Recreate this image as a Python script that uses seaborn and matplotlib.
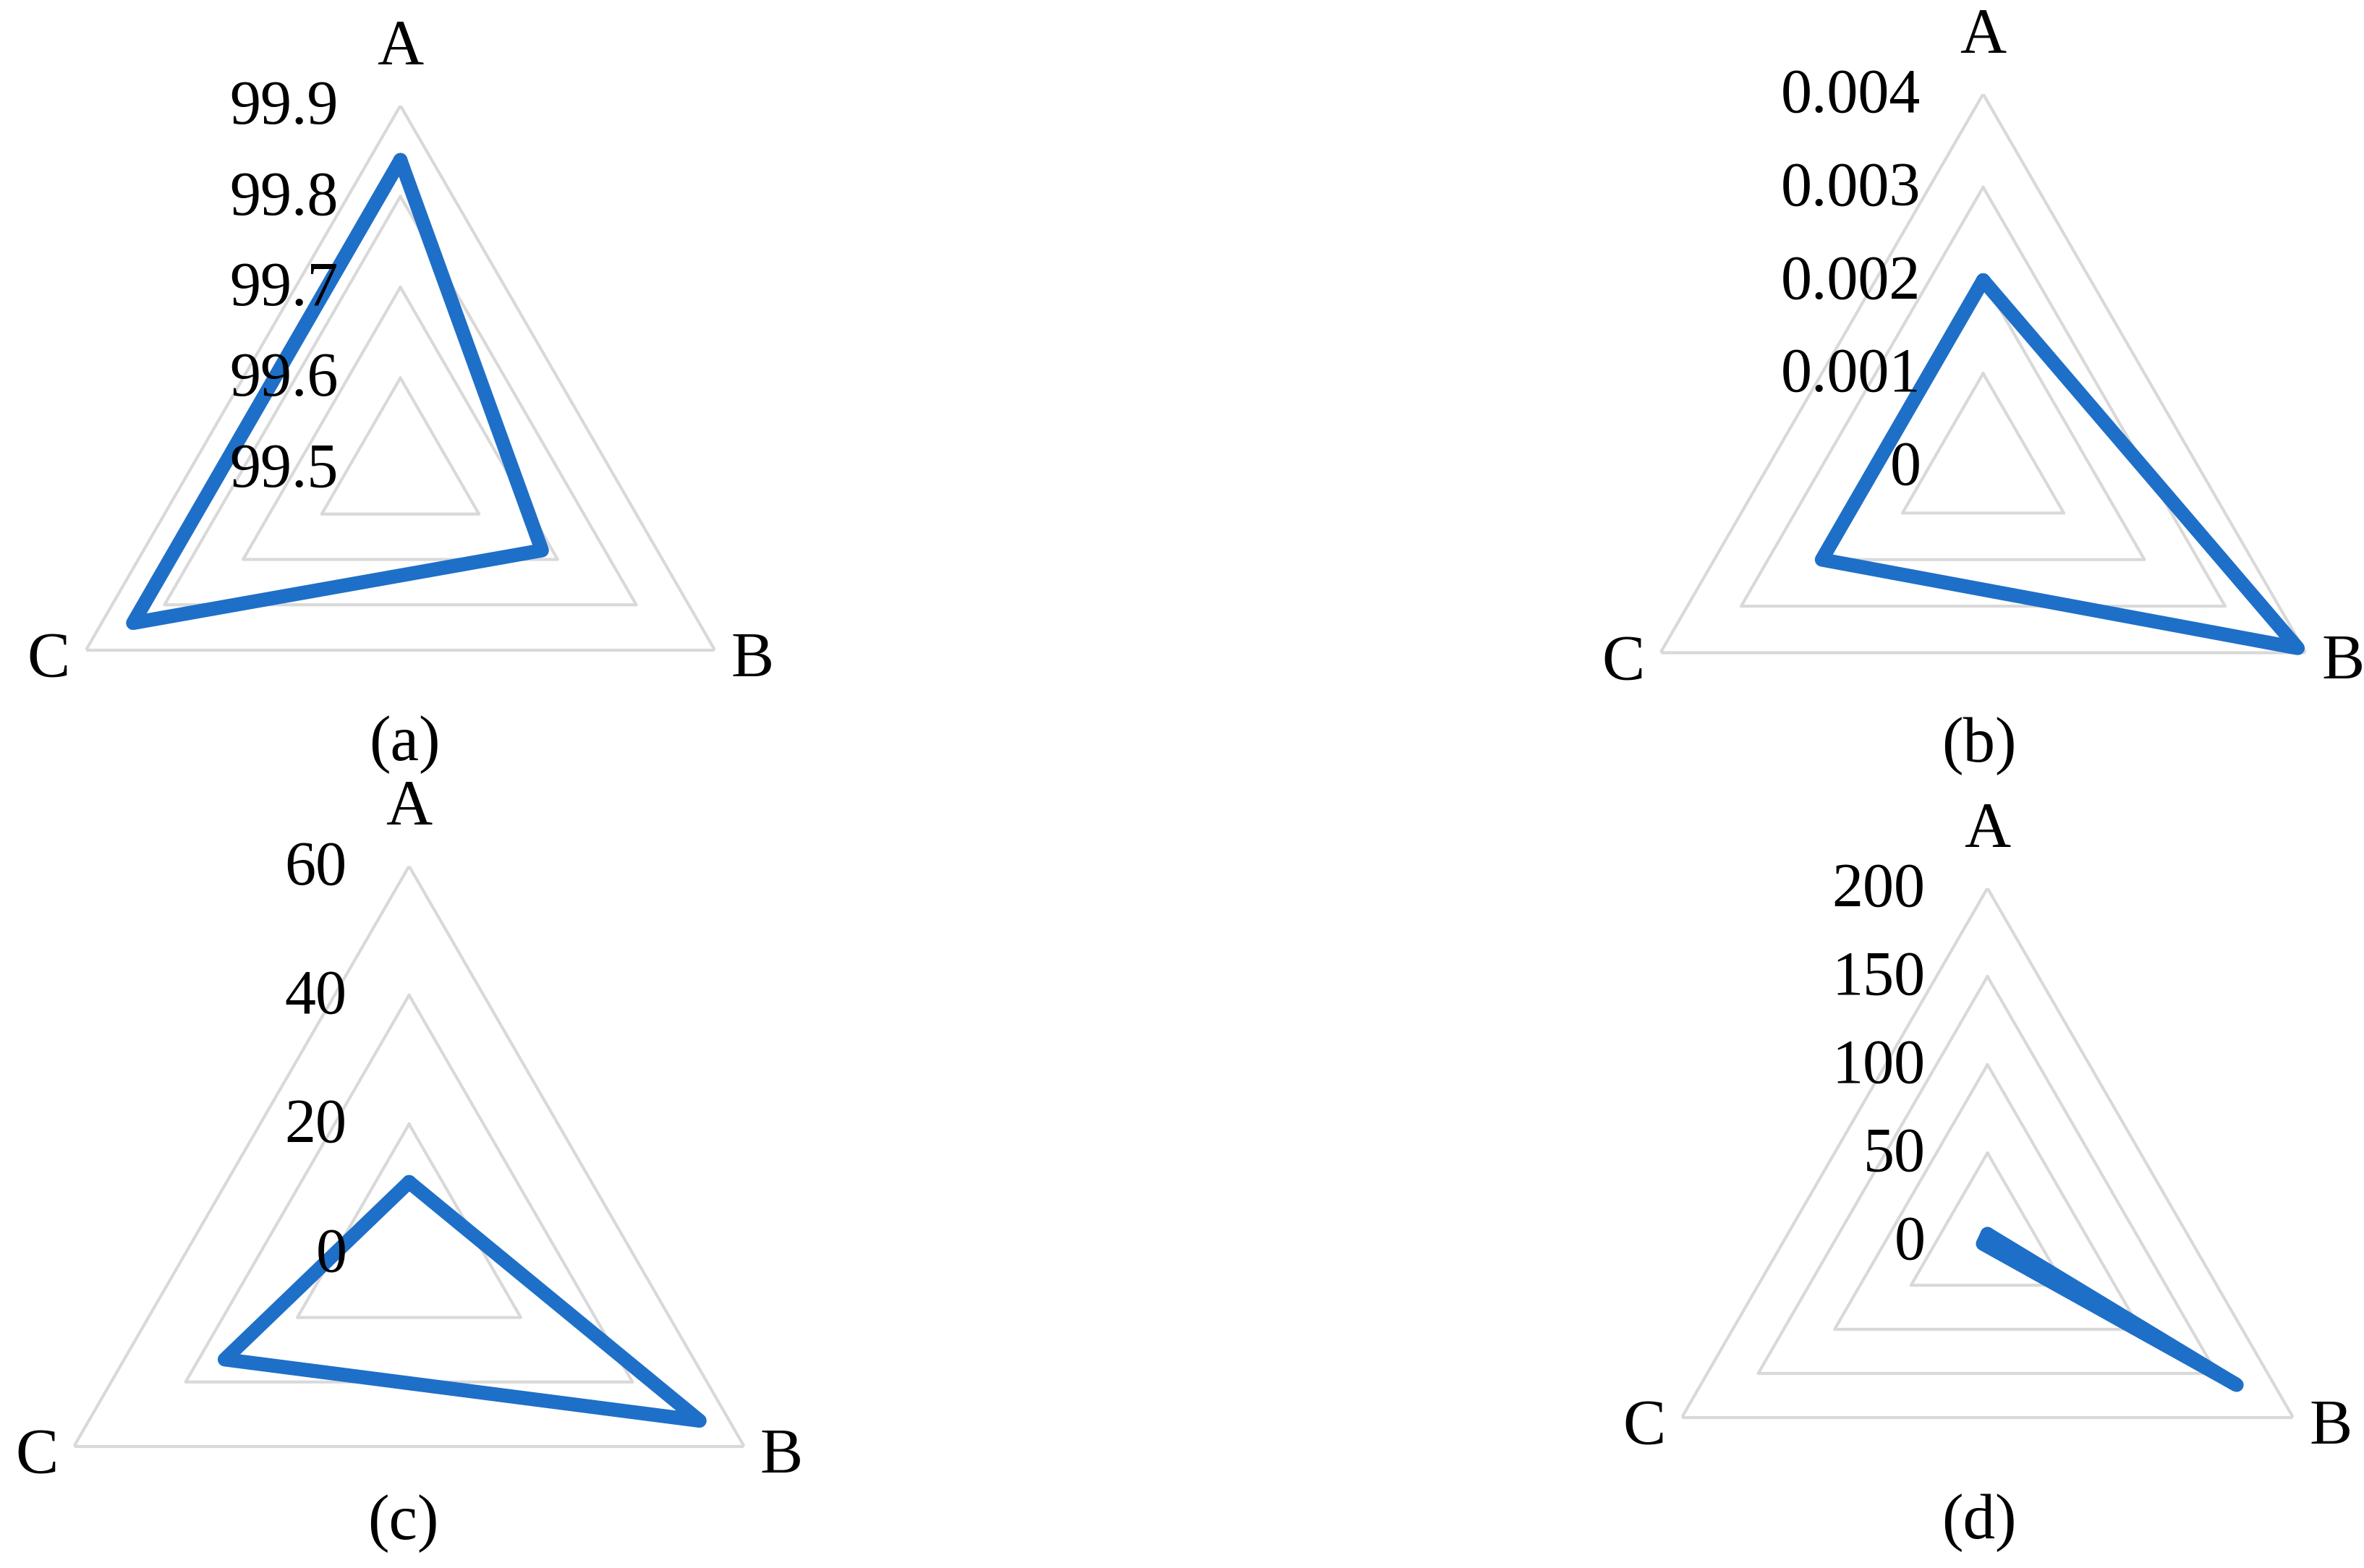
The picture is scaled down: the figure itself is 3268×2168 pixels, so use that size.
import numpy as np
import pandas as pd
import matplotlib
matplotlib.use("Agg")
import matplotlib.pyplot as plt
import seaborn as sns

# data
categorias = ["A", "B", "C"]
valores_a = [99.84, 99.68, 99.84]
valores_b = [0.002, 0.0039, 0.002]
valores_c = [11, 52, 33]
valores_d = [4, 163, 3]

niveis_a = [99.5, 99.6, 99.7, 99.8, 99.9]
rotulos_a = ["99.5", "99.6", "99.7", "99.8", "99.9"]
niveis_b = [0, 0.001, 0.002, 0.003, 0.004]
rotulos_b = ["0", "0.001", "0.002", "0.003", "0.004"]
niveis_c = [0, 20, 40, 60]
rotulos_c = ["0", "20", "40", "60"]
niveis_d = [0, 50, 100, 150, 200]
rotulos_d = ["0", "50", "100", "150", "200"]

legendas = ["(a)", "(b)", "(c)", "(d)"]

sns.set_theme(style="white")
plt.rcParams["font.family"] = ["Liberation Serif", "DejaVu Serif"]
plt.rcParams["text.color"] = "black"

W, H = 3268, 2168
fig = plt.figure(figsize=(W / 100, H / 100), dpi=100)

AZUL = "#1E6FC8"
CINZA = "#D9D9D9"
FS_EIXO = 64
FS_TICK = 62

# centro (px), raio (px), posicao da legenda (px)
paineis = [
    (valores_a, niveis_a, rotulos_a, (553.5, 648), 502, (559, 1030)),
    (valores_b, niveis_b, rotulos_b, (2741.5, 645), 515, (2736, 1032)),
    (valores_c, niveis_c, rotulos_c, (565.5, 1732.5), 535, (557, 2107)),
    (valores_d, niveis_d, rotulos_d, (2747.5, 1716), 488, (2736, 2106)),
]

angulos = np.arange(len(categorias)) * 2 * np.pi / len(categorias)
ang_fech = np.append(angulos, 2 * np.pi)

for (valores, niveis, rotulos, (cx, cy), R, (lx, ly)), leg in zip(paineis, legendas):
    ax = fig.add_axes([(cx - R) / W, (H - cy - R) / H, 2 * R / W, 2 * R / H],
                      projection="polar")
    ax.set_theta_zero_location("N")
    ax.set_theta_direction(-1)
    ax.grid(False)
    ax.spines["polar"].set_visible(False)
    ax.patch.set_alpha(0)

    # triangulos de grade
    for nv in niveis[1:]:
        ax.plot(ang_fech, [nv] * len(ang_fech), color=CINZA, lw=3, zorder=1)

    # serie
    df = pd.DataFrame({"ang": ang_fech, "val": valores + [valores[0]]})
    sns.lineplot(data=df, x="ang", y="val", ax=ax, sort=False, estimator=None,
                 color=AZUL, linewidth=14, solid_joinstyle="round",
                 solid_capstyle="round", zorder=3)
    ax.set_xlabel("")
    ax.set_ylabel("")
    ax.set_xticks([])
    ax.set_yticks([])
    ax.set_ylim(niveis[0], niveis[-1])

    # rotulos dos niveis (por cima da linha, como no Excel)
    for nv, rt in zip(niveis, rotulos):
        ax.annotate(rt, xy=(0, nv), xytext=(-86, -4), textcoords="offset pixels",
                    ha="right", va="center", fontsize=FS_TICK, color="black",
                    zorder=5, annotation_clip=False)

    # rotulos das categorias
    offs = [((0, 58), "center"), ((22, -36), "left"), ((-22, -36), "right")]
    for ang, cat, (off, ha) in zip(angulos, categorias, offs):
        ax.annotate(cat, xy=(ang, niveis[-1]), xytext=off, textcoords="offset pixels",
                    ha=ha, va="baseline", fontsize=FS_EIXO, color="black",
                    zorder=5, annotation_clip=False)

    fig.text(lx / W, 1 - ly / H, leg, ha="center", va="center",
             fontsize=FS_EIXO, color="black")

fig.savefig("out.png", dpi=100, facecolor="white")
